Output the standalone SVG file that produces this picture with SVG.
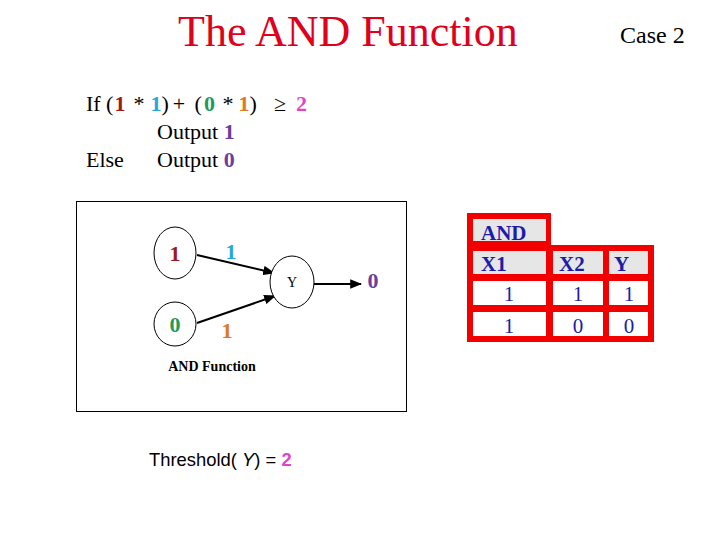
<svg xmlns="http://www.w3.org/2000/svg" width="720" height="540" viewBox="0 0 720 540">
<style>
.tm{font-family:"Liberation Serif","Times New Roman",serif}
.b{font-weight:bold}
.node{fill:#fff;stroke:#000;stroke-width:1}
.edge{stroke:#000;stroke-width:2;fill:none}
.hd{fill:#e6e6e6}
.cell{fill:#fff}
.tb{fill:#1c1ca8}
</style>
<defs>
<marker id="ah" viewBox="0 0 10 8" refX="9" refY="4" markerWidth="6" markerHeight="4.8" orient="auto" markerUnits="strokeWidth">
<path d="M0,0 L10,4 L0,8 z" fill="#000"/>
</marker>
</defs>
<rect width="720" height="540" fill="#fff"/>
<text class="tm" x="178" y="46" font-size="44" fill="#e0001b">The AND Function</text>
<text class="tm" x="620" y="43" font-size="24" fill="#000">Case 2</text>

<g id="rule" class="tm" font-size="22">
<text y="111" fill="#000"><tspan x="86">If</tspan><tspan x="106">(</tspan><tspan x="114.5" class="b" fill="#9b1c1f">1</tspan><tspan x="133.5">*</tspan><tspan x="150.5" class="b" fill="#27a8dc">1</tspan><tspan x="161.5">)</tspan><tspan x="172.8">+</tspan><tspan x="194.5">(</tspan><tspan x="204" class="b" fill="#1e9a5a">0</tspan><tspan x="222.5">*</tspan><tspan x="238.5" class="b" fill="#e07a22">1</tspan><tspan x="249.5">)</tspan><tspan x="274">≥</tspan><tspan x="296" class="b" fill="#df45c8">2</tspan></text>
<text x="157" y="139" fill="#000">Output <tspan class="b" fill="#6b3d9c">1</tspan></text>
<text x="86" y="167" fill="#000">Else</text>
<text x="157" y="167" fill="#000">Output <tspan class="b" fill="#6b3d9c">0</tspan></text>
</g>

<rect x="76.5" y="201.5" width="330" height="210" fill="none" stroke="#000" stroke-width="1"/>

<g id="connectors">
<line class="edge" x1="197" y1="255" x2="274" y2="273" marker-end="url(#ah)"/>
<line class="edge" x1="197" y1="323" x2="275" y2="296" marker-end="url(#ah)"/>
<line class="edge" x1="314" y1="284" x2="361" y2="284" marker-end="url(#ah)"/>
</g>

<g id="n1">
<ellipse class="node" cx="175" cy="253" rx="21" ry="26"/>
<text class="tm b" x="175" y="261" font-size="22" text-anchor="middle" fill="#9b1c1f">1</text>
</g>
<g id="n0">
<ellipse class="node" cx="175" cy="324" rx="21" ry="22"/>
<text class="tm b" x="175" y="332" font-size="22" text-anchor="middle" fill="#1e9a5a">0</text>
</g>
<g id="nY">
<ellipse class="node" cx="292" cy="282" rx="22" ry="26"/>
<text class="tm" x="292" y="287" font-size="14" text-anchor="middle" fill="#000">Y</text>
</g>
<g id="labels" class="tm b" font-size="22" text-anchor="middle">
<text x="231" y="259" fill="#27a8dc">1</text>
<text x="227" y="338" fill="#e07a22">1</text>
<text x="373" y="288" fill="#6b3d9c">0</text>
</g>
<text class="tm b" x="212" y="371" font-size="14" text-anchor="middle" fill="#000">AND Function</text>

<g id="table">
<path d="M467,213 H551 V245 H654 V342 H467 Z" fill="#f20000"/>
<rect class="hd" x="473" y="219" width="73" height="22"/>
<rect class="hd" x="473" y="251" width="73" height="23"/>
<rect class="hd" x="553" y="251" width="50" height="23"/>
<rect class="hd" x="609" y="251" width="39" height="23"/>
<rect class="cell" x="473" y="281" width="73" height="24"/>
<rect class="cell" x="553" y="281" width="50" height="24"/>
<rect class="cell" x="609" y="281" width="39" height="24"/>
<rect class="cell" x="473" y="312" width="73" height="24"/>
<rect class="cell" x="553" y="312" width="50" height="24"/>
<rect class="cell" x="609" y="312" width="39" height="24"/>
<g class="tm b tb" font-size="21">
<text x="481" y="240">AND</text>
<text x="481" y="271">X1</text>
<text x="559" y="271">X2</text>
<text x="614" y="271">Y</text>
</g>
<g class="tm tb" font-size="21" text-anchor="middle">
<text x="509" y="301">1</text>
<text x="578" y="301">1</text>
<text x="629" y="301">1</text>
<text x="509" y="333">1</text>
<text x="578" y="333">0</text>
<text x="629" y="333">0</text>
</g>
</g>

<text x="149" y="466" font-family="Liberation Sans, Arial, sans-serif" font-size="18.4" fill="#000">Threshold( <tspan font-style="italic">Y</tspan>) = <tspan font-weight="bold" fill="#df45c8">2</tspan></text>
</svg>
